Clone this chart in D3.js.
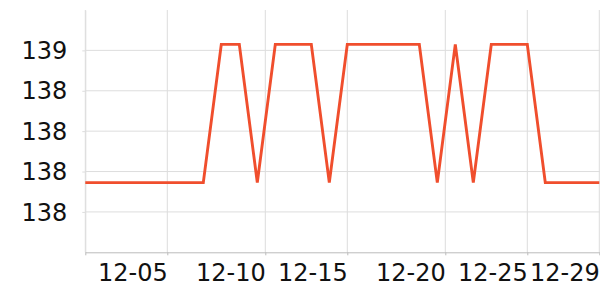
<!DOCTYPE html>
<html>
<head>
<meta charset="utf-8">
<script src="https://cdn.jsdelivr.net/npm/d3@7"></script>
<style>
  html, body { margin: 0; padding: 0; background: #fff; }
  svg { display: block; }
  .tick text { font: 24px "DejaVu Sans", sans-serif; fill: #111; }
</style>
</head>
<body>
<div id="chart"></div>
<script>
// daily values (year assumed 2024)
const dates = [
  "11-30", "12-01", "12-02", "12-03", "12-04", "12-05", "12-06", "12-07",
  "12-08", "12-09", "12-10", "12-11", "12-12", "12-13", "12-14", "12-15",
  "12-16", "12-17", "12-18", "12-19", "12-20", "12-21", "12-22", "12-23",
  "12-24", "12-25", "12-26", "12-27", "12-28", "12-29",
];
const values = [
  137.945, 137.945, 137.945, 137.945, 137.945, 137.945, 137.945, 137.945,
  138.63, 138.63, 137.945, 138.63, 138.63, 138.63, 137.945, 138.63,
  138.63, 138.63, 138.63, 138.63, 137.945, 138.63, 137.945, 138.63,
  138.63, 138.63, 137.945, 137.945, 137.945, 137.945,
];

// x axis: left edge and tick positions as the original shows them
const xDomain = ["11-30 10:40", "12-29 00:00"];
const xTicks = ["11-30 10:40", "12-05 00:00", "12-10 10:40", "12-15 00:00", "12-20 10:40", "12-25 00:00", "12-29 00:00"];
const xTickLabels = ["", "12-05", "12-10", "12-15", "12-20", "12-25", "12-29"];

const yDomain = [137.6, 138.8];
const yTicks = [137.8, 138.0, 138.2, 138.4, 138.6];

const width = 600, height = 300;
const margin = { top: 10, right: 0.7, bottom: 47.7, left: 85.3 };

const parse = d3.timeParse("%Y-%m-%d %H:%M");
const toDate = (s) => parse("2024-" + (s.length > 5 ? s : s + " 00:00"));

const data = dates.map((d, i) => ({ date: toDate(d), value: values[i] }));

const svg = d3.select("#chart").append("svg")
  .attr("width", width)
  .attr("height", height);

const x = d3.scaleTime()
  .domain(xDomain.map(toDate))
  .range([margin.left, width - margin.right]);

const y = d3.scaleLinear()
  .domain(yDomain)
  .range([height - margin.bottom, margin.top]);

const tickDates = xTicks.map(toDate);

// grid
const grid = svg.append("g").attr("stroke", "#dddddd").attr("stroke-width", 1);
grid.selectAll("line.v")
  .data(tickDates)
  .join("line")
  .attr("class", "v")
  .attr("x1", (d) => x(d)).attr("x2", (d) => x(d))
  .attr("y1", margin.top).attr("y2", height - margin.bottom);
grid.selectAll("line.h")
  .data(yTicks)
  .join("line")
  .attr("class", "h")
  .attr("x1", margin.left).attr("x2", width)
  .attr("y1", (d) => y(d)).attr("y2", (d) => y(d));

// y axis
const yAxis = svg.append("g")
  .attr("transform", `translate(${margin.left},0)`)
  .call(d3.axisLeft(y).tickValues(yTicks).tickFormat(d3.format(".0f")).tickSize(3).tickPadding(15).tickSizeOuter(0));
yAxis.select(".domain").attr("stroke", "#dddddd");
yAxis.selectAll(".tick line").attr("stroke", "#dddddd");
yAxis.selectAll(".tick text").attr("dy", "0.34em");

// x axis
const xAxis = svg.append("g")
  .attr("transform", `translate(0,${height - margin.bottom})`)
  .call(d3.axisBottom(x).tickValues(tickDates).tickFormat((d, i) => xTickLabels[i]).tickSize(3).tickPadding(9).tickSizeOuter(0));
xAxis.select(".domain").attr("stroke", "#bbbbbb");
xAxis.selectAll(".tick line").attr("stroke", "#bbbbbb");
xAxis.selectAll(".tick text").attr("text-anchor", "end");

// line, clipped to the plot
svg.append("clipPath").attr("id", "clip")
  .append("rect")
  .attr("x", margin.left).attr("y", 0)
  .attr("width", width - margin.left).attr("height", height);

const line = d3.line()
  .x((d) => x(d.date))
  .y((d) => y(d.value));

svg.append("path")
  .datum(data)
  .attr("clip-path", "url(#clip)")
  .attr("fill", "none")
  .attr("stroke", "#f04e2d")
  .attr("stroke-width", 2.9)
  .attr("stroke-linejoin", "miter")
  .attr("d", line);
</script>
</body>
</html>
